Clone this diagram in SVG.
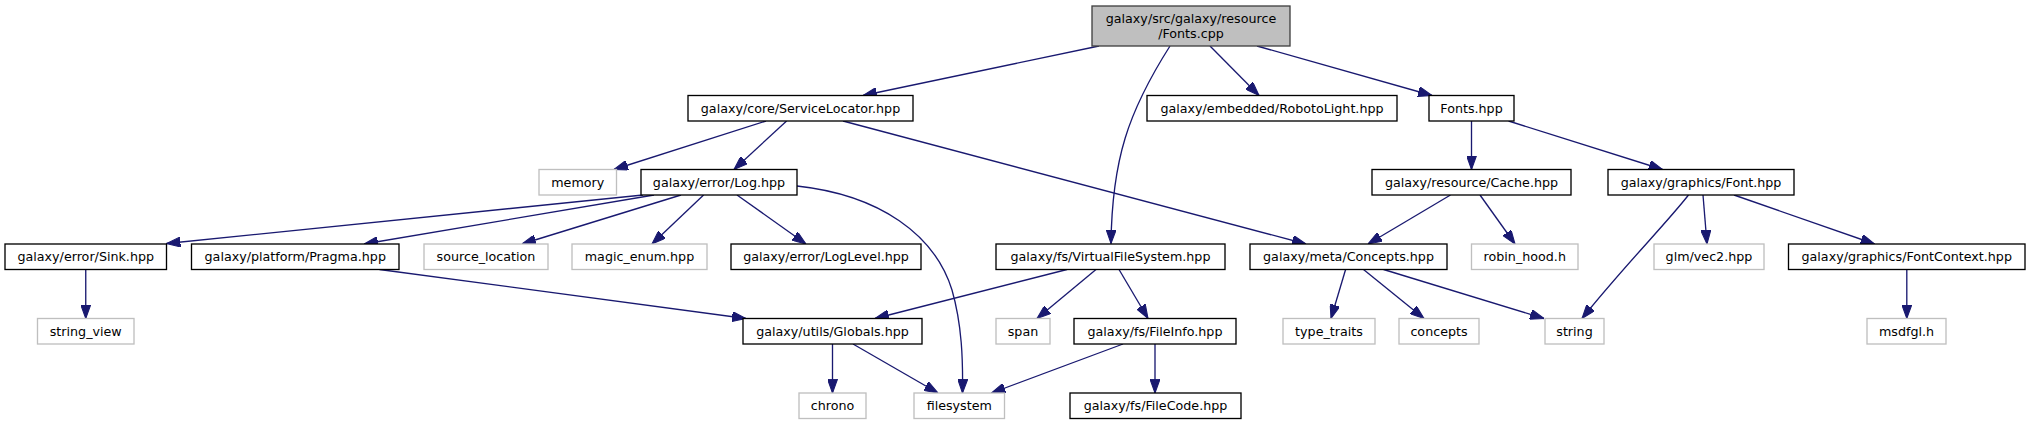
<svg xmlns="http://www.w3.org/2000/svg" width="2029" height="425" viewBox="0 0 2029 425">
<style>
.n rect{fill:#fff;stroke:#000;stroke-width:1.33}
.g rect{fill:#fff;stroke:#bfbfbf;stroke-width:1.33}
.r rect{fill:#bfbfbf;stroke:#404040;stroke-width:1.33}
text{font-family:"DejaVu Sans","Liberation Sans",sans-serif;font-size:12.7px;fill:#000;text-anchor:middle}
#edges path{fill:none;stroke:#191970;stroke-width:1.33;marker-end:url(#ah)}
</style>
<defs>
<marker id="ah" markerUnits="userSpaceOnUse" markerWidth="14" markerHeight="10" viewBox="0 0 13 9.4" refX="13" refY="4.7" orient="auto">
<path d="M0,0 L13,4.7 L0,9.4 z" fill="#191970" stroke="#191970" stroke-width="1"/>
</marker>
</defs>
<rect width="2029" height="425" fill="#fff"/>
<g id="edges">
<path d="M1099,46 L863,95.5"/>
<path d="M1170,46 C1128,112 1112,160 1111,243.5"/>
<path d="M1210,46 L1259,95.5"/>
<path d="M1257,46 L1432,95.5"/>
<path d="M766,121 L614,169.5"/>
<path d="M786.6,121 L734,169.5"/>
<path d="M843,121 L1306,244"/>
<path d="M643,195 L166.5,243.5"/>
<path d="M654,195 L364,244"/>
<path d="M681,195 L522,244"/>
<path d="M703.6,195 L652,244"/>
<path d="M737,195 L806,244"/>
<path d="M797,186 C880,195 935,235 952,290 C962,325 963,360 962.5,393"/>
<path d="M379.5,269.5 L746,318.5"/>
<path d="M85.75,269.5 L85.75,318.5"/>
<path d="M1067,269.5 L875,318.5"/>
<path d="M1096,269.5 L1037,318.5"/>
<path d="M1119,269.5 L1148,318.5"/>
<path d="M832.5,344 L832.5,393"/>
<path d="M853,344 L938,393"/>
<path d="M1123,344 L991.5,393"/>
<path d="M1155,344 L1155,393"/>
<path d="M1471.5,121 L1471.5,169.5"/>
<path d="M1508.6,121 L1662.6,169.5"/>
<path d="M1450.5,195 L1368,244"/>
<path d="M1480,195 L1515,244"/>
<path d="M1688.5,195 C1665,225 1625,265 1582,318.5"/>
<path d="M1703,195 L1707,244"/>
<path d="M1734,195 L1874.6,244"/>
<path d="M1345.6,269.5 L1331,318.5"/>
<path d="M1363.5,269.5 L1424,318.5"/>
<path d="M1383.6,269.5 L1544,318.5"/>
<path d="M1906.8,269.5 L1906.8,318.5"/>
</g>
<g id="root" class="r"><rect x="1092" y="6" width="198" height="40"/><text x="1191" y="22.5">galaxy/src/galaxy/resource</text><text x="1191" y="37.5">/Fonts.cpp</text></g>
<g id="servicelocator" class="n"><rect x="688" y="95.5" width="225" height="25.5"/><text x="800.5" y="112.5">galaxy/core/ServiceLocator.hpp</text></g>
<g id="robotolight" class="n"><rect x="1147" y="95.5" width="250" height="25.5"/><text x="1272" y="112.5">galaxy/embedded/RobotoLight.hpp</text></g>
<g id="fontshpp" class="n"><rect x="1429" y="95.5" width="85" height="25.5"/><text x="1471.5" y="112.5">Fonts.hpp</text></g>
<g id="memory" class="g"><rect x="539" y="169.5" width="77.5" height="25.5"/><text x="577.75" y="186.5">memory</text></g>
<g id="log" class="n"><rect x="641" y="169.5" width="156" height="25.5"/><text x="719" y="186.5">galaxy/error/Log.hpp</text></g>
<g id="cache" class="n"><rect x="1372" y="169.5" width="199" height="25.5"/><text x="1471.5" y="186.5">galaxy/resource/Cache.hpp</text></g>
<g id="font" class="n"><rect x="1608" y="169.5" width="186" height="25.5"/><text x="1701" y="186.5">galaxy/graphics/Font.hpp</text></g>
<g id="sink" class="n"><rect x="5" y="244" width="161.5" height="25.5"/><text x="85.75" y="261">galaxy/error/Sink.hpp</text></g>
<g id="pragma" class="n"><rect x="191.5" y="244" width="207.5" height="25.5"/><text x="295.25" y="261">galaxy/platform/Pragma.hpp</text></g>
<g id="source_location" class="g"><rect x="424" y="244" width="124" height="25.5"/><text x="486" y="261">source_location</text></g>
<g id="magic_enum" class="g"><rect x="572" y="244" width="135" height="25.5"/><text x="639.5" y="261">magic_enum.hpp</text></g>
<g id="loglevel" class="n"><rect x="731" y="244" width="190" height="25.5"/><text x="826" y="261">galaxy/error/LogLevel.hpp</text></g>
<g id="vfs" class="n"><rect x="996" y="244" width="229" height="25.5"/><text x="1110.5" y="261">galaxy/fs/VirtualFileSystem.hpp</text></g>
<g id="concepts_hpp" class="n"><rect x="1250" y="244" width="197" height="25.5"/><text x="1348.5" y="261">galaxy/meta/Concepts.hpp</text></g>
<g id="robin_hood" class="g"><rect x="1471.5" y="244" width="106.5" height="25.5"/><text x="1524.75" y="261">robin_hood.h</text></g>
<g id="glm_vec2" class="g"><rect x="1654" y="244" width="110" height="25.5"/><text x="1709" y="261">glm/vec2.hpp</text></g>
<g id="fontcontext" class="n"><rect x="1788.5" y="244" width="236.5" height="25.5"/><text x="1906.75" y="261">galaxy/graphics/FontContext.hpp</text></g>
<g id="string_view" class="g"><rect x="37.5" y="318.5" width="96.5" height="25.5"/><text x="85.75" y="335.5">string_view</text></g>
<g id="globals" class="n"><rect x="743" y="318.5" width="179" height="25.5"/><text x="832.5" y="335.5">galaxy/utils/Globals.hpp</text></g>
<g id="span" class="g"><rect x="996" y="318.5" width="54" height="25.5"/><text x="1023" y="335.5">span</text></g>
<g id="fileinfo" class="n"><rect x="1074" y="318.5" width="162" height="25.5"/><text x="1155" y="335.5">galaxy/fs/FileInfo.hpp</text></g>
<g id="type_traits" class="g"><rect x="1283" y="318.5" width="92" height="25.5"/><text x="1329" y="335.5">type_traits</text></g>
<g id="concepts" class="g"><rect x="1399" y="318.5" width="80" height="25.5"/><text x="1439" y="335.5">concepts</text></g>
<g id="string" class="g"><rect x="1545" y="318.5" width="59" height="25.5"/><text x="1574.5" y="335.5">string</text></g>
<g id="msdfgl" class="g"><rect x="1867" y="318.5" width="79" height="25.5"/><text x="1906.5" y="335.5">msdfgl.h</text></g>
<g id="chrono" class="g"><rect x="799" y="393" width="67" height="25.5"/><text x="832.5" y="410">chrono</text></g>
<g id="filesystem" class="g"><rect x="914" y="393" width="90.5" height="25.5"/><text x="959.25" y="410">filesystem</text></g>
<g id="filecode" class="n"><rect x="1070" y="393" width="171" height="25.5"/><text x="1155.5" y="410">galaxy/fs/FileCode.hpp</text></g>
</svg>
